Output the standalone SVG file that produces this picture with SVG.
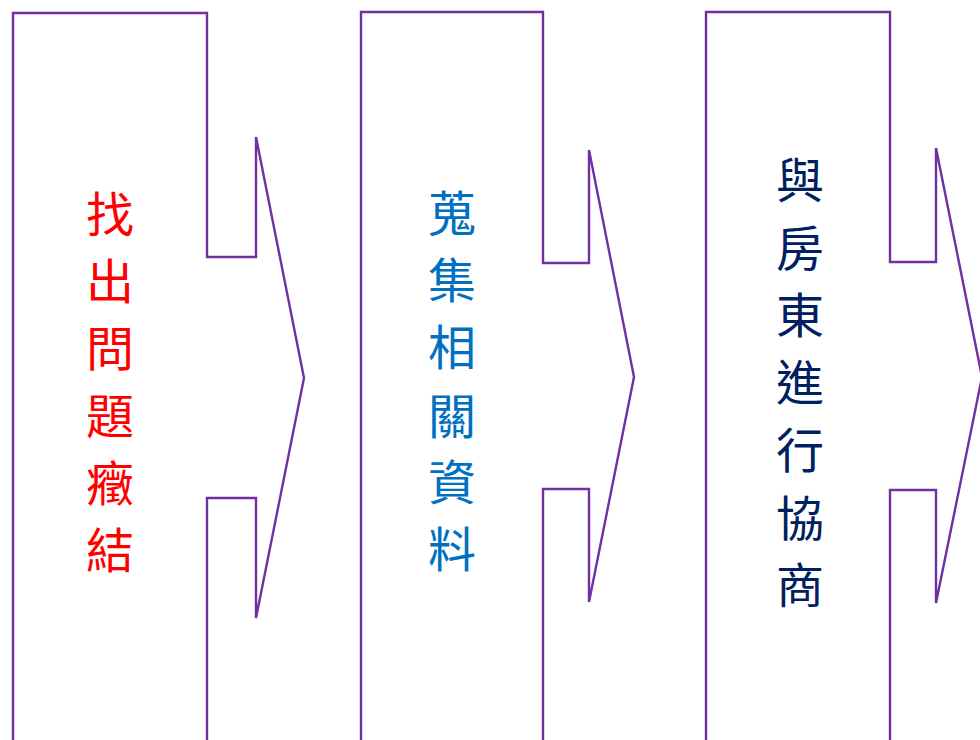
<svg xmlns="http://www.w3.org/2000/svg" width="980" height="740" viewBox="0 0 980 740">
<style>
.shape{fill:#ffffff;stroke:#7030A0;stroke-width:2.4;stroke-linejoin:miter}
.lbl{font-family:"Noto Sans CJK TC","Noto Sans CJK SC",sans-serif;font-size:48px;text-anchor:middle}
.red{fill:#FF0000}
.blue{fill:#0070C0}
.navy{fill:#002060}
</style>
<rect width="980" height="740" fill="#ffffff"/>
<g id="node1">
<path class="shape" d="M13,750 L13,13 L207,13 L207,257 L256,257 L256,137 L304,378 L256,618 L256,498 L207,498 L207,750"/>
<text class="lbl red"><tspan x="110" y="232">找</tspan><tspan x="110" y="299">出</tspan><tspan x="110" y="366">問</tspan><tspan x="110" y="434">題</tspan><tspan x="110" y="501">癥</tspan><tspan x="110" y="568">結</tspan></text>
</g>
<g id="node2">
<path class="shape" d="M361,750 L361,12 L543,12 L543,263 L589,263 L589,150 L634,377 L589,602 L589,489 L543,489 L543,750"/>
<text class="lbl blue"><tspan x="452" y="231">蒐</tspan><tspan x="452" y="298">集</tspan><tspan x="452" y="365">相</tspan><tspan x="452" y="434">關</tspan><tspan x="452" y="500">資</tspan><tspan x="452" y="567">料</tspan></text>
</g>
<g id="node3">
<path class="shape" d="M706,750 L706,12 L890,12 L890,262 L936,262 L936,148 L982,377 L936,603 L936,490 L890,490 L890,750"/>
<text class="lbl navy"><tspan x="800" y="198">與</tspan><tspan x="800" y="266">房</tspan><tspan x="800" y="333">東</tspan><tspan x="800" y="400">進</tspan><tspan x="800" y="468">行</tspan><tspan x="800" y="536">協</tspan><tspan x="800" y="603">商</tspan></text>
</g>
<g id="connectors"></g>
</svg>
